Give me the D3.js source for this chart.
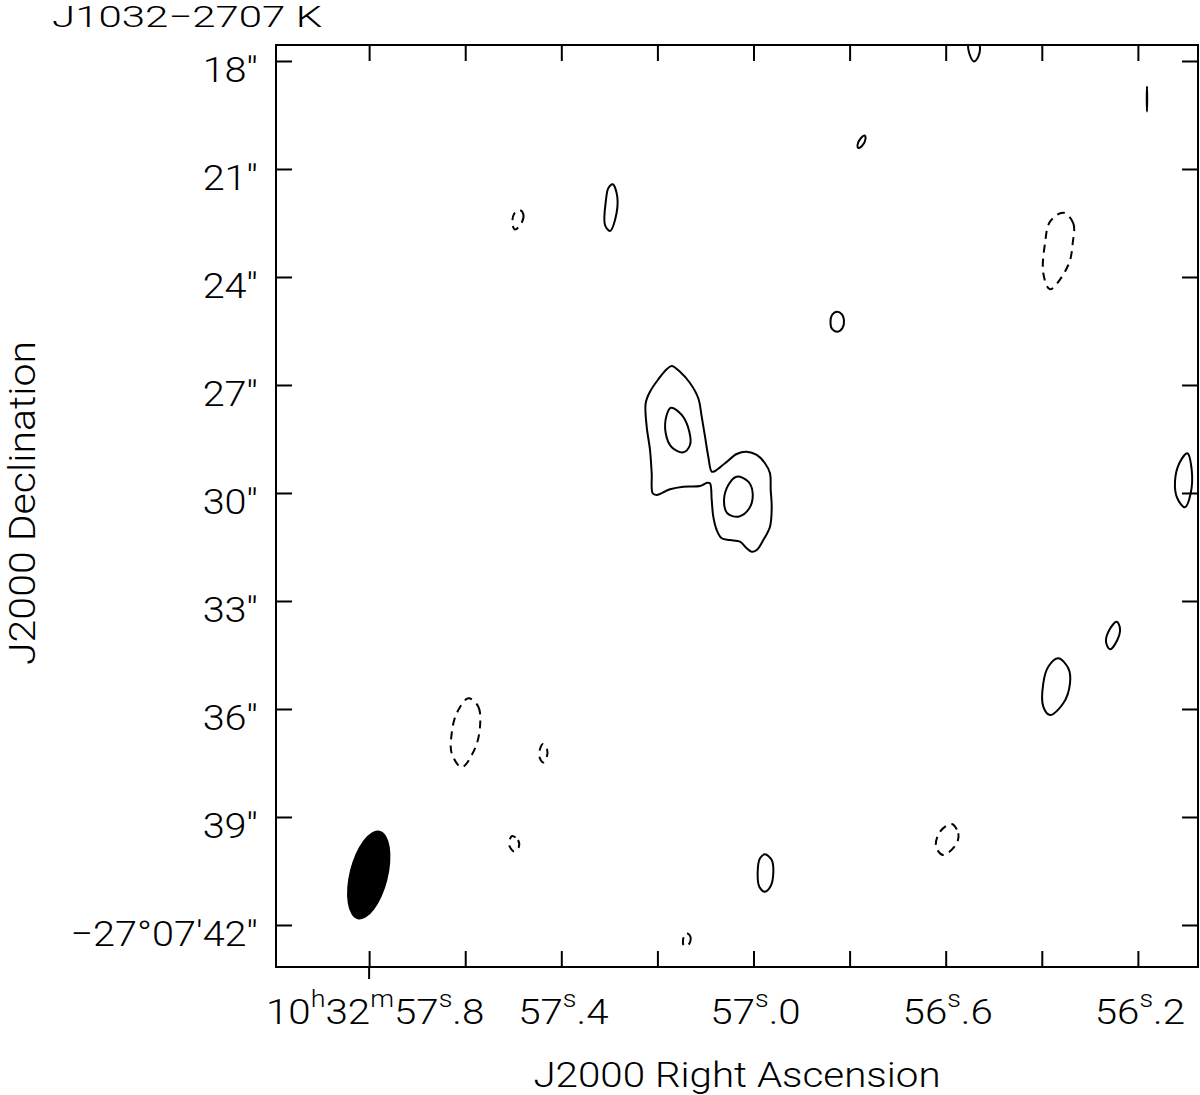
<!DOCTYPE html>
<html>
<head>
<meta charset="utf-8">
<script src="https://cdn.jsdelivr.net/npm/d3@7"></script>
<style>
  body { margin: 0; background: #fff; }
  svg text { font-family: Roboto, "DejaVu Sans", sans-serif; font-weight: 300; fill: #000; }
</style>
</head>
<body>
<svg id="chart" width="1200" height="1095"></svg>
<script>
// RA in seconds of 10h32m, Dec in arcsec south of -27d07m
const raExtent = [57.9938, 56.0749]
const decExtent = [17.556, 43.167]

const raTicks = [57.8, 57.6, 57.4, 57.2, 57.0, 56.8, 56.6, 56.4, 56.2]
const raLabelTicks = [57.8, 57.4, 57.0, 56.6, 56.2]
// [text, superscript?]
const raLabels = [
  [["10", 0], ["h", 1], ["32", 0], ["m", 1], ["57", 0], ["s", 1], [".8", 0]],
  [["57", 0], ["s", 1], [".4", 0]],
  [["57", 0], ["s", 1], [".0", 0]],
  [["56", 0], ["s", 1], [".6", 0]],
  [["56", 0], ["s", 1], [".2", 0]]
]
const decTicks = [18, 21, 24, 27, 30, 33, 36, 39, 42]
const decLabels = ["18''", "21''", "24''", "27''", "30''", "33''", "36''", "39''", "\u221227\u00b007'42''"]

// main source, outer and the two inner contours
const srcOuter = [
  [57.1702, 26.472], [57.1530, 26.631], [57.1322, 26.944], [57.1149, 27.369], [57.1078, 27.881],
  [57.1009, 28.436], [57.0941, 28.992], [57.0870, 29.408], [57.0801, 29.389], [57.0593, 29.175],
  [57.0350, 28.917], [57.0142, 28.853], [56.9933, 28.944], [56.9761, 29.175], [56.9657, 29.453],
  [56.9642, 29.917], [56.9621, 30.381], [56.9657, 30.936], [56.9796, 31.306], [56.9933, 31.583],
  [57.0037, 31.631], [57.0142, 31.536], [57.0281, 31.353], [57.0489, 31.306], [57.0662, 31.258],
  [57.0766, 31.028], [57.0837, 30.658], [57.0870, 30.194], [57.0905, 29.731], [57.0962, 29.714],
  [57.1113, 29.806], [57.1461, 29.825], [57.1738, 29.897], [57.2015, 30.056], [57.2098, 30.008],
  [57.2119, 29.453], [57.2154, 28.806], [57.2223, 28.158], [57.2244, 27.508], [57.2154, 27.186],
  [57.1981, 26.842], [57.1807, 26.564]
]
const srcInnerA = [
  [57.1717, 27.631], [57.1494, 27.833], [57.1336, 28.297], [57.1322, 28.667],
  [57.1461, 28.869], [57.1702, 28.731], [57.1827, 28.342], [57.1807, 27.833]
]
const srcInnerB = [
  [57.0350, 29.547], [57.0108, 29.686], [57.0017, 30.008], [57.0087, 30.425],
  [57.0316, 30.658], [57.0545, 30.564], [57.0614, 30.214], [57.0524, 29.778]
]

// other positive contours
const posIslands = [
  [[57.2930, 21.425], [57.2835, 21.769], [57.2882, 22.417], [57.2986, 22.722], [57.3091, 22.556], [57.3070, 21.861], [57.3022, 21.536]],
  [[56.7690, 20.069], [56.7669, 20.167], [56.7742, 20.361], [56.7815, 20.417], [56.7836, 20.333], [56.7763, 20.139]],
  [[56.8262, 24.964], [56.8158, 25.042], [56.8117, 25.194], [56.8148, 25.417], [56.8252, 25.519], [56.8366, 25.444], [56.8398, 25.250], [56.8366, 25.056]],
  [[56.5526, 17.528], [56.5505, 17.806], [56.5411, 18.014], [56.5317, 17.861], [56.5297, 17.556], [56.5411, 17.361]],
  [[56.1811, 18.708], [56.1806, 19.056], [56.1811, 19.403], [56.1816, 19.056]],
  [[56.0972, 28.897], [56.0880, 29.361], [56.0901, 30.008], [56.1020, 30.397], [56.1180, 30.147], [56.1228, 29.686], [56.1138, 29.175]],
  [[56.2441, 33.575], [56.2373, 33.758], [56.2429, 34.083], [56.2581, 34.342], [56.2664, 34.131], [56.2595, 33.806]],
  [[56.3657, 34.592], [56.3448, 34.869], [56.3413, 35.286], [56.3553, 35.842], [56.3829, 36.167], [56.3969, 35.936], [56.3969, 35.286], [56.3865, 34.825]],
  [[56.9761, 40.036], [56.9621, 40.194], [56.9588, 40.564], [56.9642, 40.917], [56.9761, 41.075], [56.9879, 40.936], [56.9913, 40.519], [56.9865, 40.147]]
]

// negative contours (dashed)
const negIslands = [
  [[57.4860, 22.139], [57.4787, 22.278], [57.4839, 22.528], [57.4964, 22.681], [57.5016, 22.528], [57.4984, 22.250]],
  [[56.3553, 22.214], [56.3344, 22.508], [56.3357, 23.064], [56.3448, 23.667], [56.3829, 24.342], [56.3969, 23.897], [56.3933, 23.064], [56.3829, 22.464]],
  [[57.5936, 35.703], [57.5727, 35.936], [57.5692, 36.492], [57.5796, 37.092], [57.6073, 37.619], [57.6281, 37.231], [57.6281, 36.675], [57.6177, 36.119]],
  [[57.4381, 36.972], [57.4298, 37.111], [57.4308, 37.361], [57.4381, 37.486], [57.4454, 37.333], [57.4443, 37.111]],
  [[57.5026, 39.528], [57.4901, 39.639], [57.4891, 39.861], [57.4984, 39.958], [57.5078, 39.806], [57.5068, 39.611]],
  [[57.1405, 42.222], [57.1311, 42.333], [57.1342, 42.528], [57.1446, 42.583], [57.1467, 42.417]],
  [[56.5875, 39.194], [56.5738, 39.453], [56.5771, 39.731], [56.6050, 40.056], [56.6202, 39.825], [56.6119, 39.408]]
]

// restoring beam (arcsec, deg)
const beamCenter = [57.8008, 40.611]
const beamMajor = 2.53
const beamMinor = 1.07
const beamPA = -14

const svg = d3.select("#chart")
const fLeft = 276, fTop = 45, fRight = 1198, fBottom = 967

let x = d3.scaleLinear().domain(raExtent).range([fLeft, fRight])
let y = d3.scaleLinear().domain(decExtent).range([fTop, fBottom])

svg.append("defs").append("clipPath").attr("id", "frameClip")
  .append("rect")
  .attr("x", fLeft).attr("y", fTop)
  .attr("width", fRight - fLeft).attr("height", fBottom - fTop)

let contour = d3.line()
  .x(d => x(d[0]))
  .y(d => y(d[1]))
  .curve(d3.curveCatmullRomClosed.alpha(0.5))

let plot = svg.append("g").attr("clip-path", "url(#frameClip)")

plot.selectAll("path.pos")
  .data([srcOuter, srcInnerA, srcInnerB].concat(posIslands))
  .join("path")
  .attr("class", "pos")
  .attr("d", contour)
  .attr("fill", "none")
  .attr("stroke", "#000")
  .attr("stroke-width", 2)

plot.selectAll("path.neg")
  .data(negIslands)
  .join("path")
  .attr("class", "neg")
  .attr("d", contour)
  .attr("fill", "none")
  .attr("stroke", "#000")
  .attr("stroke-width", 2)
  .attr("stroke-dasharray", "8,6")

let pxPerArcsec = Math.abs(y(1) - y(0))
let bx = x(beamCenter[0]), by = y(beamCenter[1])
plot.append("ellipse")
  .attr("cx", bx).attr("cy", by)
  .attr("rx", beamMinor / 2 * pxPerArcsec)
  .attr("ry", beamMajor / 2 * pxPerArcsec)
  .attr("transform", `rotate(${-beamPA},${bx},${by})`)
  .attr("fill", "#000")

// frame and inward ticks
function ticks(g) {
  g.select(".domain").remove()
  g.selectAll("line").attr("stroke", "#000").attr("stroke-width", 2)
}
svg.append("g").attr("transform", `translate(0,${fBottom})`)
  .call(d3.axisBottom(x).tickValues(raTicks).tickSize(-16).tickFormat("")).call(ticks)
svg.append("g").attr("transform", `translate(0,${fTop})`)
  .call(d3.axisTop(x).tickValues(raTicks).tickSize(-16).tickFormat("")).call(ticks)
svg.append("g").attr("transform", `translate(${fLeft},0)`)
  .call(d3.axisLeft(y).tickValues(decTicks).tickSize(-16).tickFormat("")).call(ticks)
svg.append("g").attr("transform", `translate(${fRight},0)`)
  .call(d3.axisRight(y).tickValues(decTicks).tickSize(-16).tickFormat("")).call(ticks)

svg.append("line")
  .attr("x1", x(raLabelTicks[0])).attr("x2", x(raLabelTicks[0]))
  .attr("y1", fBottom).attr("y2", fBottom + 12)
  .attr("stroke", "#000").attr("stroke-width", 2)

svg.append("rect")
  .attr("x", fLeft).attr("y", fTop)
  .attr("width", fRight - fLeft).attr("height", fBottom - fTop)
  .attr("fill", "none").attr("stroke", "#000").attr("stroke-width", 2)

// labels
decTicks.forEach((d, i) => {
  svg.append("text")
    .attr("transform", `translate(258,${y(d) + 21}) scale(1.1,1)`)
    .attr("text-anchor", "end")
    .attr("font-size", 36)
    .text(decLabels[i])
})

raLabelTicks.forEach((v, i) => {
  let t = svg.append("text")
    .attr("transform", `translate(${x(v) + (i == 0 ? 6 : 2)},1024) scale(1.12,1)`)
    .attr("text-anchor", "middle")
    .attr("font-size", 36)
  let up = false
  raLabels[i].forEach(([s, sup]) => {
    let dy = 0
    if (sup && !up) { dy = -17; up = true }
    else if (!sup && up) { dy = 17; up = false }
    t.append("tspan")
      .attr("dy", dy)
      .attr("font-size", sup ? 24 : 36)
      .text(s)
  })
})

svg.append("text")
  .attr("transform", "translate(737,1087) scale(1.12,1)")
  .attr("text-anchor", "middle")
  .attr("font-size", 36)
  .text("J2000 Right Ascension")

svg.append("text")
  .attr("transform", "translate(35,503) rotate(-90) scale(1.11,1)")
  .attr("text-anchor", "middle")
  .attr("font-size", 37)
  .text("J2000 Declination")

svg.append("text")
  .attr("transform", "translate(52,27) scale(1.4,1)")
  .attr("font-size", 30)
  .text("J1032\u22122707 K")
</script>
</body>
</html>
